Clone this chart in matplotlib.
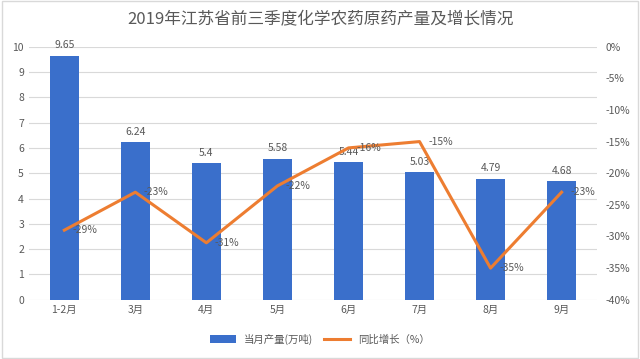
import numpy as np
import matplotlib.pyplot as plt
from matplotlib.ticker import FuncFormatter

plt.rcParams['font.family'] = ['Noto Sans CJK SC', 'DejaVu Sans']

months = ["1-2月", "3月", "4月", "5月", "6月", "7月", "8月", "9月"]
output = [9.65, 6.24, 5.4, 5.58, 5.44, 5.03, 4.79, 4.68]
growth = [-29, -23, -31, -22, -16, -15, -35, -23]

bar_color = "#3A6FCB"
line_color = "#ED7D31"
text_color = "#595959"

fig = plt.figure(figsize=(6.4, 3.59), dpi=100)
ax = fig.add_axes([0.045, 0.165, 0.888, 0.705])
x = np.arange(len(months))

ax.bar(x, output, width=0.4, color=bar_color, zorder=2, label="当月产量(万吨)")
ax.set_ylim(0, 10)
ax.set_yticks(range(0, 11))
ax.set_xlim(-0.5, len(months) - 0.5)
ax.set_xticks(x)
ax.set_xticklabels(months)
ax.grid(axis="y", color="#D9D9D9", linewidth=0.8, zorder=0)
for s in ax.spines.values():
    s.set_visible(False)
ax.tick_params(length=0, colors=text_color, labelsize=7.5)
for xi, v in zip(x, output):
    ax.text(xi, v + 0.2, f"{v:g}", ha="center", va="bottom", fontsize=7.5, color=text_color)

ax2 = ax.twinx()
ax2.plot(x, growth, color=line_color, linewidth=2.2, zorder=3, label="同比增长（%）")
ax2.set_ylim(-40, 0)
ax2.set_yticks(range(-40, 1, 5))
ax2.yaxis.set_major_formatter(FuncFormatter(lambda v, p: f"{v:.0f}%"))
for s in ax2.spines.values():
    s.set_visible(False)
ax2.tick_params(length=0, colors=text_color, labelsize=7.5, pad=6)
for xi, g in zip(x, growth):
    ax2.text(xi + 0.12, g, f"{g}%", ha="left", va="center", fontsize=7.5, color=text_color, zorder=4)

fig.text(0.5, 0.944, "2019年江苏省前三季度化学农药原药产量及增长情况", ha="center", va="center",
         fontsize=12, color=text_color)

h1, l1 = ax.get_legend_handles_labels()
h2, l2 = ax2.get_legend_handles_labels()
fig.legend(h1 + h2, l1 + l2, loc="center", bbox_to_anchor=(0.5, 0.055), ncol=2, frameon=False,
           fontsize=7.5, labelcolor=text_color, handlelength=2.5, columnspacing=1.0)

fig.patches.append(plt.Rectangle((0.003, 0.003), 0.994, 0.994, transform=fig.transFigure,
                                 fill=False, edgecolor="#D9D9D9", linewidth=1))

fig.savefig("out.png", dpi=100)
